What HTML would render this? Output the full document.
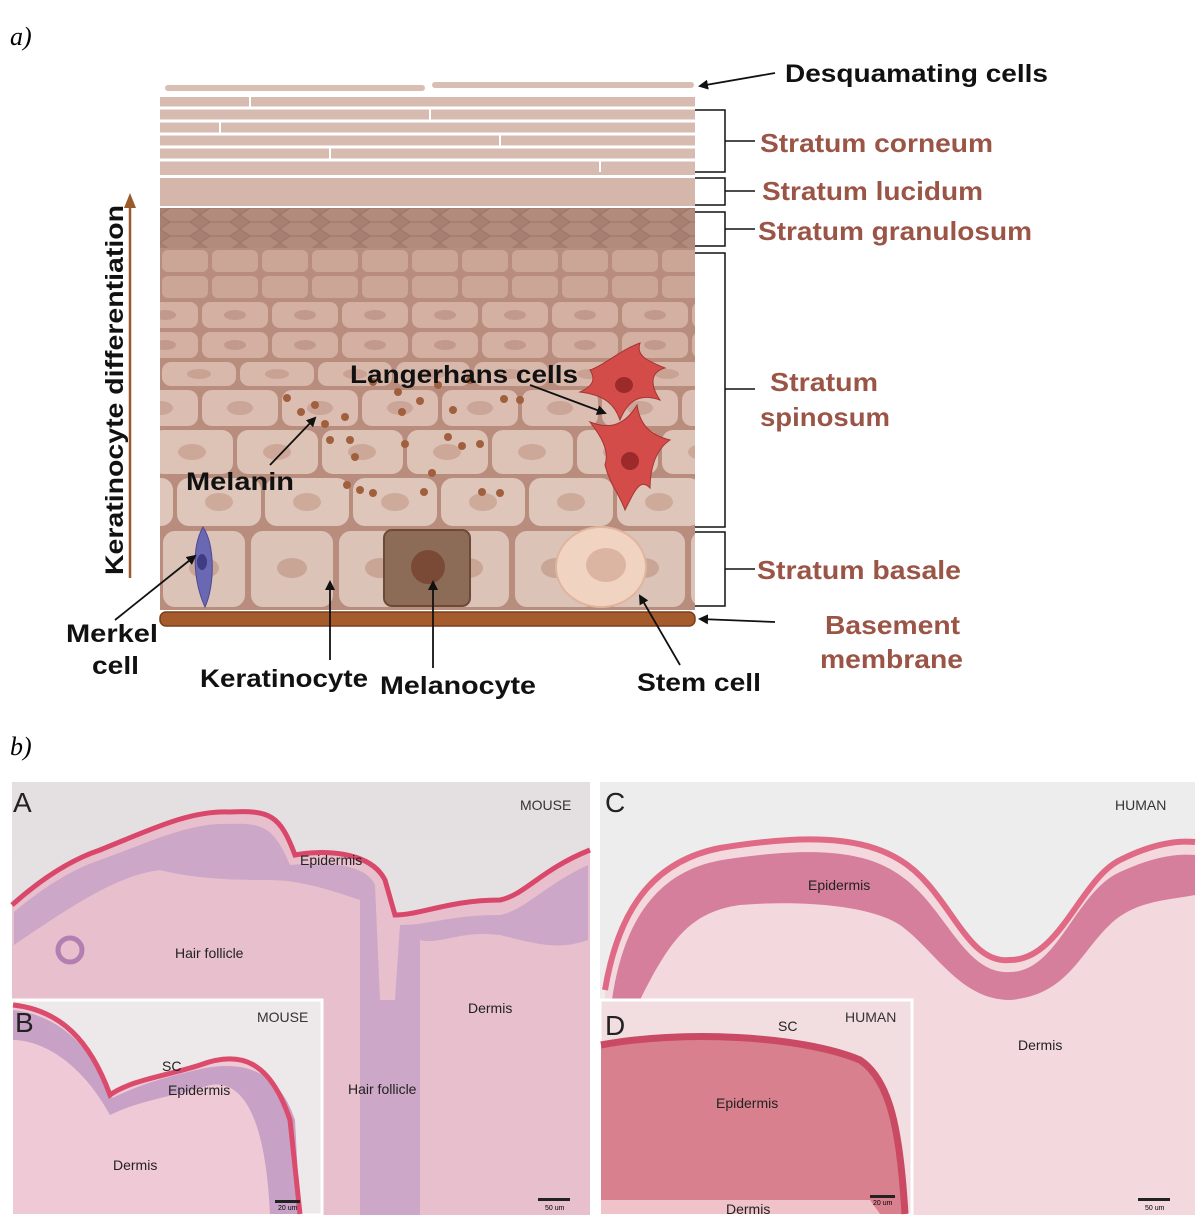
<!DOCTYPE html>
<html><head><meta charset="utf-8"><style>
html,body{margin:0;padding:0;background:#fff;}
body{width:1197px;height:1225px;overflow:hidden;position:relative;font-family:"Liberation Sans",sans-serif;}
svg{position:absolute;left:0;top:0;}
</style></head><body>
<svg width="1197" height="1225" viewBox="0 0 1197 1225" xmlns="http://www.w3.org/2000/svg">
<defs>
<marker id="ah" markerWidth="10" markerHeight="10" refX="8" refY="5" orient="auto" markerUnits="userSpaceOnUse"><path d="M0,0 L10,5 L0,10 z" fill="#111"/></marker>
<pattern id="c1" x="160" y="248" width="50" height="26" patternUnits="userSpaceOnUse"><rect width="50" height="26" fill="#b98d7e"/><rect x="2" y="2" width="46" height="22" rx="6" fill="#cba596"/></pattern>
<pattern id="c2" x="130" y="300" width="70" height="30" patternUnits="userSpaceOnUse"><rect width="70" height="30" fill="#b98d7e"/><rect x="2" y="2" width="66" height="26" rx="8" fill="#d3b0a2"/><ellipse cx="35" cy="15" rx="11" ry="5" fill="#c29a8b"/></pattern>
<pattern id="c3" x="160" y="360" width="78" height="28" patternUnits="userSpaceOnUse"><rect width="78" height="28" fill="#b98d7e"/><rect x="2" y="2" width="74" height="24" rx="9" fill="#d8b8aa"/><ellipse cx="39" cy="14" rx="12" ry="5" fill="#c9a294"/></pattern>
<pattern id="c4" x="200" y="388" width="80" height="40" patternUnits="userSpaceOnUse"><rect width="80" height="40" fill="#b98d7e"/><rect x="2" y="2" width="76" height="36" rx="10" fill="#dbbeb1"/><ellipse cx="40" cy="20" rx="13" ry="7" fill="#cba597"/></pattern>
<pattern id="c5" x="150" y="428" width="85" height="48" patternUnits="userSpaceOnUse"><rect width="85" height="48" fill="#b98d7e"/><rect x="2" y="2" width="81" height="44" rx="11" fill="#ddc2b6"/><ellipse cx="42" cy="24" rx="14" ry="8" fill="#cda899"/></pattern>
<pattern id="c6" x="175" y="476" width="88" height="52" patternUnits="userSpaceOnUse"><rect width="88" height="52" fill="#b98d7e"/><rect x="2" y="2" width="84" height="48" rx="12" fill="#dfc6ba"/><ellipse cx="44" cy="26" rx="14" ry="9" fill="#ceaa9b"/></pattern>
<pattern id="c7" x="160" y="528" width="88" height="82" patternUnits="userSpaceOnUse"><rect width="88" height="82" fill="#b98d7e"/><rect x="3" y="3" width="82" height="76" rx="12" fill="#dcc3b8"/><ellipse cx="44" cy="40" rx="15" ry="10" fill="#c9a596"/></pattern>
<pattern id="gr" x="160" y="208" width="40" height="14" patternUnits="userSpaceOnUse"><rect width="40" height="14" fill="#a88072"/><path d="M0,7 L10,0 L30,0 L40,7 L30,14 L10,14 Z" fill="#b38b7d" stroke="#9c7467" stroke-width="1"/></pattern>
<linearGradient id="bgA" x1="0" y1="0" x2="0" y2="1"><stop offset="0" stop-color="#e4e0e2"/><stop offset="1" stop-color="#e8e4e6"/></linearGradient>
</defs>

<text x="10" y="45" font-family="Liberation Serif" font-style="italic" font-size="26">a)</text>
<text x="10" y="755" font-family="Liberation Serif" font-style="italic" font-size="26">b)</text>

<rect x="165" y="85" width="260" height="6" rx="3" fill="#d8beb3"/>
<rect x="432" y="82" width="262" height="6" rx="3" fill="#d8beb3"/>
<rect x="160" y="97" width="535" height="78" fill="#d7bbb0"/>
<g stroke="#fff" stroke-width="3">
<line x1="160" y1="108" x2="695" y2="108"/><line x1="160" y1="121" x2="695" y2="121"/>
<line x1="160" y1="134" x2="695" y2="134"/><line x1="160" y1="147" x2="695" y2="147"/>
<line x1="160" y1="160" x2="695" y2="160"/>
<line x1="250" y1="97" x2="250" y2="108" stroke-width="2"/><line x1="430" y1="108" x2="430" y2="121" stroke-width="2"/><line x1="220" y1="121" x2="220" y2="134" stroke-width="2"/><line x1="500" y1="134" x2="500" y2="147" stroke-width="2"/><line x1="330" y1="147" x2="330" y2="160" stroke-width="2"/><line x1="600" y1="160" x2="600" y2="172" stroke-width="2"/>
</g>
<rect x="160" y="178" width="535" height="28" fill="#d4b6aa"/>
<rect x="160" y="208" width="535" height="40" fill="url(#gr)"/>
<rect x="160" y="248" width="535" height="52" fill="url(#c1)"/>
<rect x="160" y="300" width="535" height="30" fill="url(#c2)"/>
<rect x="160" y="330" width="535" height="30" fill="url(#c2)"/>
<rect x="160" y="360" width="535" height="28" fill="url(#c3)"/>
<rect x="160" y="388" width="535" height="40" fill="url(#c4)"/>
<rect x="160" y="428" width="535" height="48" fill="url(#c5)"/>
<rect x="160" y="476" width="535" height="52" fill="url(#c6)"/>
<rect x="160" y="528" width="535" height="82" fill="url(#c7)"/>
<rect x="384" y="530" width="86" height="76" rx="8" fill="#8d6c57" stroke="#6d4a36" stroke-width="2"/>
<circle cx="428" cy="567" r="17" fill="#7a4a36"/>
<ellipse cx="601" cy="567" rx="45" ry="40" fill="#f1d3c1" stroke="#e0b49d" stroke-width="2"/>
<ellipse cx="606" cy="565" rx="20" ry="17" fill="#dcb5a2"/>
<path d="M203,527 C215,545 215,585 205,607 C195,585 190,550 203,527 Z" fill="#6a68b2" stroke="#4d4a90"/>
<ellipse cx="202" cy="562" rx="5" ry="8" fill="#3f3c85"/>
<rect x="160" y="612" width="535" height="14" rx="6" fill="#a55b2c" stroke="#7a3e1c" stroke-width="1.5"/>
<g fill="#a0603e">
<circle cx="287" cy="398" r="4"/><circle cx="315" cy="405" r="4"/><circle cx="301" cy="412" r="4"/><circle cx="325" cy="424" r="4"/><circle cx="345" cy="417" r="4"/><circle cx="330" cy="440" r="4"/><circle cx="350" cy="440" r="4"/><circle cx="355" cy="457" r="4"/><circle cx="347" cy="485" r="4"/><circle cx="360" cy="490" r="4"/><circle cx="373" cy="493" r="4"/><circle cx="373" cy="382" r="4"/><circle cx="398" cy="392" r="4"/><circle cx="402" cy="412" r="4"/><circle cx="420" cy="401" r="4"/><circle cx="438" cy="385" r="4"/><circle cx="453" cy="410" r="4"/><circle cx="448" cy="437" r="4"/><circle cx="462" cy="446" r="4"/><circle cx="480" cy="444" r="4"/><circle cx="405" cy="444" r="4"/><circle cx="424" cy="492" r="4"/><circle cx="432" cy="473" r="4"/><circle cx="482" cy="492" r="4"/><circle cx="500" cy="493" r="4"/><circle cx="504" cy="399" r="4"/><circle cx="520" cy="400" r="4"/><circle cx="470" cy="380" r="4"/>
</g>
<path d="M590,370 C605,365 620,350 640,343 C636,355 645,360 665,368 C650,372 650,385 660,400 C645,395 630,395 620,420 C615,405 605,395 580,392 C595,385 595,378 590,370 Z" fill="#d34c4a" stroke="#a73432"/>
<ellipse cx="624" cy="385" rx="9" ry="8" fill="#9c2a2a"/>
<path d="M590,422 C610,430 625,425 637,405 C640,425 650,435 670,440 C655,450 650,470 650,488 C640,478 635,490 625,510 C620,495 610,485 605,465 C610,450 600,435 590,422 Z" fill="#d34c4a" stroke="#a73432"/>
<ellipse cx="630" cy="461" rx="9" ry="9" fill="#9c2a2a"/>

<g fill="none" stroke="#111" stroke-width="1.5">
<path d="M695,110 H725 V172 H695 M725,141 H755"/>
<path d="M695,178 H725 V205 H695 M725,191 H755"/>
<path d="M695,212 H725 V246 H695 M725,229 H755"/>
<path d="M695,253 H725 V527 H695 M725,389 H755"/>
<path d="M695,532 H725 V606 H695 M725,569 H755"/>
</g>
<g fill="none" stroke="#111" stroke-width="1.8" marker-end="url(#ah)">
<line x1="775" y1="73" x2="700" y2="86"/>
<line x1="775" y1="622" x2="700" y2="619"/>
<line x1="270" y1="465" x2="315" y2="418"/>
<line x1="530" y1="385" x2="605" y2="413"/>
<line x1="115" y1="620" x2="195" y2="556"/>
<line x1="330" y1="660" x2="330" y2="582"/>
<line x1="433" y1="668" x2="433" y2="582"/>
<line x1="680" y1="665" x2="640" y2="596"/>
</g>
<line x1="130" y1="578" x2="130" y2="205" stroke="#9a5a2c" stroke-width="2.5"/>
<path d="M124,208 L130,193 L136,208 Z" fill="#9a5a2c"/>
<text transform="translate(123,575) rotate(-90)" font-size="25" font-weight="bold" fill="#111" textLength="370" lengthAdjust="spacingAndGlyphs">Keratinocyte differentiation</text>

<g font-weight="bold" font-size="25" fill="#111" lengthAdjust="spacingAndGlyphs">
<text x="785" y="82" textLength="263" lengthAdjust="spacingAndGlyphs">Desquamating cells</text>
<text x="350" y="383" textLength="228" lengthAdjust="spacingAndGlyphs">Langerhans cells</text>
<text x="186" y="490" textLength="108" lengthAdjust="spacingAndGlyphs">Melanin</text>
<text x="66" y="642" textLength="92" lengthAdjust="spacingAndGlyphs">Merkel</text>
<text x="92" y="674" textLength="47" lengthAdjust="spacingAndGlyphs">cell</text>
<text x="200" y="687" textLength="168" lengthAdjust="spacingAndGlyphs">Keratinocyte</text>
<text x="380" y="694" textLength="156" lengthAdjust="spacingAndGlyphs">Melanocyte</text>
<text x="637" y="691" textLength="124" lengthAdjust="spacingAndGlyphs">Stem cell</text>
</g>
<g font-weight="bold" font-size="26" fill="#9b5547">
<text x="760" y="152" textLength="233" lengthAdjust="spacingAndGlyphs">Stratum corneum</text>
<text x="762" y="200" textLength="221" lengthAdjust="spacingAndGlyphs">Stratum lucidum</text>
<text x="758" y="240" textLength="274" lengthAdjust="spacingAndGlyphs">Stratum granulosum</text>
<text x="770" y="391" textLength="108" lengthAdjust="spacingAndGlyphs">Stratum</text>
<text x="760" y="426" textLength="130" lengthAdjust="spacingAndGlyphs">spinosum</text>
<text x="757" y="579" textLength="204" lengthAdjust="spacingAndGlyphs">Stratum basale</text>
<text x="825" y="634" textLength="135" lengthAdjust="spacingAndGlyphs">Basement</text>
<text x="820" y="668" textLength="143" lengthAdjust="spacingAndGlyphs">membrane</text>
</g>

<rect x="12" y="782" width="578" height="433" fill="url(#bgA)"/>
<path d="M12,905 C40,880 70,860 100,850 C150,830 190,810 230,812 C270,810 280,815 295,855 C320,850 370,850 385,880 L395,915 C420,915 450,900 500,900 C525,895 540,870 590,850 L590,1215 L12,1215 Z" fill="#e7bfcd"/>
<path d="M12,905 C40,880 70,860 100,850 C150,830 190,810 230,812 C270,810 280,815 295,855 C320,850 370,850 385,880 L395,915 C420,915 450,900 500,900 C525,895 540,870 590,850" fill="none" stroke="#d9486a" stroke-width="5"/>
<path d="M14,912 C40,890 70,870 100,860 C150,842 190,822 230,824 C265,822 275,830 290,865 C320,862 365,862 375,885 L380,1000 L395,1000 L400,925 C430,925 450,915 500,915 C525,910 545,885 588,865 L588,940 C560,950 540,945 500,935 C460,930 440,945 420,940 L420,1215 L360,1215 L360,900 C330,890 300,880 270,880 C240,880 200,880 160,870 C120,875 80,900 14,945 Z" fill="#c7a1c5" opacity="0.8"/>
<circle cx="70" cy="950" r="12" fill="none" stroke="#b27fb0" stroke-width="5"/>
<rect x="600" y="782" width="595" height="433" fill="#eeeded"/>
<path d="M605,990 C620,900 660,860 720,848 C800,835 860,835 900,860 C950,890 965,965 1010,960 C1060,960 1080,880 1120,860 C1150,845 1175,840 1195,842 L1195,1215 L605,1215 Z" fill="#f3d9de"/>
<path d="M605,990 C620,900 660,860 720,848 C800,835 860,835 900,860 C950,890 965,965 1010,960 C1060,960 1080,880 1120,860 C1150,845 1175,840 1195,842" fill="none" stroke="#e06a85" stroke-width="6"/>
<path d="M612,1000 C625,910 665,870 722,860 C800,848 858,848 895,872 C945,902 962,975 1010,972 C1058,972 1075,892 1120,872 C1150,858 1175,853 1195,855 L1195,895 C1170,900 1140,900 1115,920 C1080,950 1070,995 1010,1000 C960,1000 935,950 900,925 C870,905 800,900 740,905 C690,912 670,940 640,1000 Z" fill="#d57f9c"/>
<text x="13" y="812" font-size="28" fill="#222">A</text>
<text x="520" y="810" font-size="14" fill="#333">MOUSE</text>
<text x="300" y="865" font-size="14" fill="#222">Epidermis</text>
<text x="175" y="958" font-size="14" fill="#222">Hair follicle</text>
<text x="468" y="1013" font-size="14" fill="#222">Dermis</text>
<text x="348" y="1094" font-size="14" fill="#222">Hair follicle</text>
<rect x="538" y="1198" width="32" height="3" fill="#222"/><text x="545" y="1210" font-size="7">50 um</text>
<text x="605" y="812" font-size="28" fill="#222">C</text>
<text x="1115" y="810" font-size="14" fill="#333">HUMAN</text>
<text x="808" y="890" font-size="14" fill="#222">Epidermis</text>
<text x="1018" y="1050" font-size="14" fill="#222">Dermis</text>
<rect x="1138" y="1198" width="32" height="3" fill="#222"/><text x="1145" y="1210" font-size="7">50 um</text>
<rect x="12" y="1000" width="310" height="215" fill="#ede9eb" stroke="#fff" stroke-width="3"/>
<path d="M13,1005 C60,1010 90,1040 110,1095 C130,1080 170,1075 200,1065 C240,1050 270,1060 290,1120 L300,1214 L13,1214 Z" fill="#f0c9d6"/>
<path d="M13,1040 C40,1040 80,1060 110,1115 C140,1100 180,1095 210,1085 C240,1080 265,1110 270,1214 L300,1214 L295,1120 C280,1075 250,1060 205,1068 C160,1078 140,1085 112,1098 C95,1050 60,1015 13,1010 Z" fill="#c8a2c6"/>
<path d="M13,1005 C60,1010 90,1040 110,1095 C130,1080 170,1075 200,1065 C240,1050 270,1060 290,1120 L300,1214" fill="none" stroke="#db4b6c" stroke-width="5"/>
<text x="15" y="1032" font-size="28" fill="#222">B</text>
<text x="257" y="1022" font-size="14" fill="#333">MOUSE</text>
<text x="162" y="1071" font-size="14" fill="#222">SC</text>
<text x="168" y="1095" font-size="14" fill="#222">Epidermis</text>
<text x="113" y="1170" font-size="14" fill="#222">Dermis</text>
<rect x="275" y="1200" width="25" height="3" fill="#222"/><text x="278" y="1210" font-size="7">20 um</text>
<rect x="600" y="1000" width="312" height="215" fill="#f2dde1" stroke="#fff" stroke-width="3"/>
<path d="M601,1045 C680,1030 800,1035 860,1060 C890,1080 900,1130 905,1214 L601,1214 Z" fill="#d9808f"/>
<path d="M601,1045 C680,1030 800,1035 860,1060 C890,1080 900,1130 905,1214" fill="none" stroke="#c94a62" stroke-width="7"/>
<path d="M601,1200 L870,1200 L880,1214 L601,1214 Z" fill="#f0c3cb"/>
<text x="605" y="1035" font-size="28" fill="#222">D</text>
<text x="845" y="1022" font-size="14" fill="#333">HUMAN</text>
<text x="778" y="1031" font-size="14" fill="#222">SC</text>
<text x="716" y="1108" font-size="14" fill="#222">Epidermis</text>
<text x="726" y="1214" font-size="14" fill="#222">Dermis</text>
<rect x="870" y="1195" width="25" height="3" fill="#222"/><text x="873" y="1205" font-size="7">20 um</text>
</svg>
</body></html>
